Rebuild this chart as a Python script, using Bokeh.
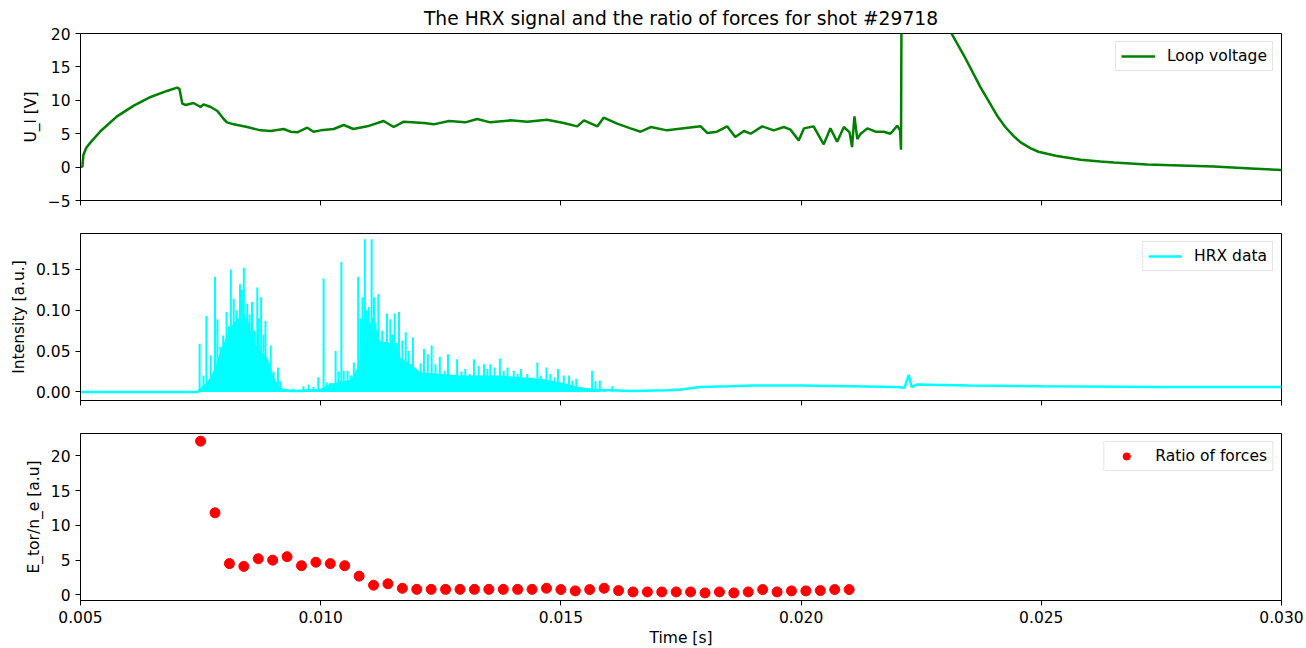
from bokeh.plotting import figure
from bokeh.layouts import column
from bokeh.models import Range1d, FixedTicker, NumeralTickFormatter, CustomLabelingPolicy
from bokeh.embed import file_html
from bokeh.resources import INLINE

FONT = "DejaVu Sans"
TICK_FS = "15.5px"

# ---------------- data ----------------
# Loop voltage U_l [V]
lv_t = [0.00500, 0.00504, 0.00506, 0.00512, 0.00521, 0.00542, 0.00576, 0.00611, 0.00646, 0.00680,
        0.00701, 0.00706, 0.00712, 0.00719, 0.00735, 0.00750, 0.00756, 0.00771, 0.00785, 0.00798,
        0.00805, 0.00819, 0.00847, 0.00875, 0.00896, 0.00923, 0.00937, 0.00951, 0.00972, 0.00985,
        0.01000, 0.01027, 0.01048, 0.01068, 0.01097, 0.01131, 0.01152, 0.01173, 0.01215, 0.01235,
        0.01267, 0.01301, 0.01326, 0.01353, 0.01395, 0.01430, 0.01471, 0.01506, 0.01534, 0.01548,
        0.01576, 0.01589, 0.01617, 0.01645, 0.01666, 0.01687, 0.01721, 0.01756, 0.01791, 0.01805,
        0.01825, 0.01846, 0.01863, 0.01881, 0.01895, 0.01919, 0.01943, 0.01964, 0.01978, 0.01995,
        0.02006, 0.02026, 0.02047, 0.02061, 0.02075, 0.02089, 0.02101, 0.02106, 0.02111, 0.02117,
        0.02124, 0.02138, 0.02155, 0.02172, 0.02186, 0.02200, 0.02206, 0.02208, 0.02210, 0.02249,
        0.02313, 0.02339, 0.02373, 0.02408, 0.02425, 0.02443, 0.02457, 0.02478, 0.02494, 0.02512,
        0.02530, 0.02546, 0.02582, 0.02623, 0.02651, 0.02720, 0.02790, 0.02859, 0.02936, 0.03000]
lv_v = [0.0, 0.1, 1.8, 2.9, 3.7, 5.4, 7.6, 9.2, 10.5, 11.4,
        11.9, 11.7, 9.5, 9.3, 9.6, 9.0, 9.4, 9.0, 8.4, 7.2,
        6.7, 6.4, 6.0, 5.5, 5.4, 5.7, 5.3, 5.2, 5.9, 5.3,
        5.5, 5.7, 6.3, 5.7, 6.1, 6.9, 6.0, 6.8, 6.6, 6.4,
        6.9, 6.7, 7.2, 6.7, 7.0, 6.8, 7.1, 6.6, 6.1, 7.0,
        6.1, 7.4, 6.5, 5.8, 5.3, 6.0, 5.5, 5.8, 6.1, 5.1,
        5.3, 6.1, 4.5, 5.4, 5.0, 6.1, 5.5, 6.0, 5.6, 4.0,
        5.8, 6.1, 3.4, 5.8, 3.8, 6.0, 5.2, 3.0, 7.6, 4.2,
        5.0, 5.8, 5.3, 5.3, 5.0, 6.2, 5.5, 2.6, 45.0, 40.0,
        20.0, 16.7, 12.0, 7.7, 6.0, 4.6, 3.7, 2.8, 2.3, 2.0,
        1.7, 1.5, 1.1, 0.85, 0.7, 0.4, 0.25, 0.1, -0.2, -0.45]

# HRX data: continuous low level signal
hrx_base_t = [0.00500, 0.00744, 0.00748, 0.00800, 0.00830, 0.00870, 0.00900, 0.00950, 0.01000, 0.01050,
              0.01100, 0.01200, 0.01350, 0.01500, 0.01600, 0.01650, 0.01720, 0.01750, 0.01790, 0.01850,
              0.01900, 0.02000, 0.02100, 0.02200, 0.02215, 0.02224, 0.02230, 0.02240, 0.02350, 0.02500,
              0.02750, 0.03000]
hrx_base_v = [0.000, 0.000, 0.002, 0.003, 0.005, 0.003, 0.002, 0.001, 0.002, 0.003,
              0.004, 0.004, 0.004, 0.003, 0.002, 0.001, 0.002, 0.003, 0.006, 0.007,
              0.008, 0.008, 0.007, 0.006, 0.005, 0.021, 0.006, 0.009, 0.008, 0.007,
              0.006, 0.006]

# HRX data: dense burst envelope
hrx_env_t = [0.00744, 0.00760, 0.00771, 0.00783, 0.00798, 0.00818, 0.00839, 0.00850, 0.00860, 0.00875,
             0.00889, 0.00902, 0.00916, 0.00937, 0.01000, 0.01020, 0.01062, 0.01077, 0.01093, 0.01108,
             0.01124, 0.01145, 0.01166, 0.01187, 0.01208, 0.01291, 0.01374, 0.01458, 0.01499, 0.01537,
             0.01582]
hrx_env_v = [0.002, 0.010, 0.018, 0.035, 0.060, 0.084, 0.096, 0.085, 0.060, 0.050,
             0.042, 0.018, 0.005, 0.002, 0.004, 0.010, 0.015, 0.030, 0.067, 0.091,
             0.062, 0.060, 0.042, 0.034, 0.024, 0.020, 0.020, 0.016, 0.012, 0.006,
             0.003]

# HRX data: individual spikes
hrx_spk_t = [0.00748, 0.00756, 0.00762, 0.00771, 0.00780, 0.00785, 0.00791, 0.00797, 0.00804, 0.00809,
             0.00813, 0.00819, 0.00825, 0.00832, 0.00836, 0.00840, 0.00847, 0.00852, 0.00857, 0.00862,
             0.00868, 0.00871, 0.00876, 0.00881, 0.00885, 0.00896, 0.00902, 0.00911, 0.00916, 0.00943,
             0.00964, 0.00975, 0.00985, 0.00995, 0.01006, 0.01012, 0.01020, 0.01031, 0.01037, 0.01043,
             0.01048, 0.01056, 0.01062, 0.01069, 0.01078, 0.01083, 0.01087, 0.01092, 0.01096, 0.01100,
             0.01106, 0.01111, 0.01114, 0.01120, 0.01128, 0.01133, 0.01138, 0.01145, 0.01149, 0.01154,
             0.01158, 0.01163, 0.01170, 0.01177, 0.01183, 0.01192, 0.01201, 0.01208, 0.01215, 0.01223,
             0.01231, 0.01239, 0.01248, 0.01258, 0.01265, 0.01274, 0.01284, 0.01293, 0.01301, 0.01310,
             0.01319, 0.01329, 0.01340, 0.01347, 0.01353, 0.01362, 0.01373, 0.01381, 0.01389, 0.01402,
             0.01410, 0.01417, 0.01430, 0.01439, 0.01451, 0.01458, 0.01470, 0.01478, 0.01487, 0.01494,
             0.01506, 0.01517, 0.01524, 0.01532, 0.01544, 0.01565, 0.01572, 0.01581, 0.01589, 0.01607]
hrx_spk_v = [0.059, 0.020, 0.093, 0.045, 0.141, 0.089, 0.055, 0.069, 0.098, 0.080,
             0.150, 0.114, 0.100, 0.132, 0.125, 0.152, 0.108, 0.095, 0.110, 0.075,
             0.128, 0.090, 0.116, 0.070, 0.087, 0.057, 0.025, 0.030, 0.013, 0.004,
             0.007, 0.009, 0.006, 0.018, 0.139, 0.012, 0.011, 0.050, 0.025, 0.159,
             0.026, 0.026, 0.020, 0.036, 0.141, 0.090, 0.116, 0.187, 0.100, 0.104,
             0.187, 0.116, 0.085, 0.120, 0.075, 0.060, 0.096, 0.089, 0.070, 0.096,
             0.060, 0.098, 0.063, 0.073, 0.050, 0.067, 0.022, 0.035, 0.053, 0.046,
             0.057, 0.034, 0.043, 0.026, 0.046, 0.018, 0.040, 0.025, 0.028, 0.022,
             0.040, 0.032, 0.034, 0.028, 0.034, 0.030, 0.041, 0.026, 0.030, 0.026,
             0.022, 0.028, 0.022, 0.018, 0.036, 0.020, 0.030, 0.022, 0.018, 0.028,
             0.020, 0.020, 0.014, 0.016, 0.005, 0.026, 0.013, 0.014, 0.003, 0.007]

# Ratio of forces E_tor/n_e [a.u]
ratio_t = [0.0075, 0.0078, 0.0081, 0.0084, 0.0087, 0.0090, 0.0093, 0.0096, 0.0099, 0.0102,
           0.0105, 0.0108, 0.0111, 0.0114, 0.0117, 0.0120, 0.0123, 0.0126, 0.0129, 0.0132,
           0.0135, 0.0138, 0.0141, 0.0144, 0.0147, 0.0150, 0.0153, 0.0156, 0.0159, 0.0162,
           0.0165, 0.0168, 0.0171, 0.0174, 0.0177, 0.0180, 0.0183, 0.0186, 0.0189, 0.0192,
           0.0195, 0.0198, 0.0201, 0.0204, 0.0207, 0.0210]
ratio_v = [22.1, 11.8, 4.5, 4.1, 5.2, 5.0, 5.5, 4.2, 4.7, 4.5,
           4.2, 2.7, 1.4, 1.6, 0.95, 0.8, 0.8, 0.8, 0.8, 0.8,
           0.8, 0.8, 0.8, 0.8, 0.96, 0.77, 0.58, 0.77, 0.96, 0.62,
           0.43, 0.43, 0.43, 0.43, 0.43, 0.29, 0.43, 0.29, 0.43, 0.77,
           0.43, 0.58, 0.58, 0.62, 0.77, 0.77]

x_ticks = [0.005, 0.010, 0.015, 0.020, 0.025, 0.030]
lv_ticks = [-5, 0, 5, 10, 15, 20]
hrx_ticks = [0.0, 0.05, 0.10, 0.15]
ratio_ticks = [0, 5, 10, 15, 20]


def make_fig(y_range, top, bottom, title=None):
    p = figure(frame_width=1201, frame_height=167,
               x_range=Range1d(0.005, 0.030), y_range=y_range,
               output_backend="svg", toolbar_location=None,
               min_border_left=80, min_border_right=25,
               min_border_top=top, min_border_bottom=bottom,
               title=title, background_fill_color="white",
               border_fill_color="white")
    p.grid.visible = False
    p.outline_line_color = "black"
    p.outline_line_width = 1
    for ax in (p.xaxis[0], p.yaxis[0]):
        ax.axis_line_color = "black"
        ax.major_tick_line_color = "black"
        ax.major_tick_out = 5
        ax.major_tick_in = 0
        ax.minor_tick_line_color = None
        ax.major_label_text_font = FONT
        ax.major_label_text_font_size = TICK_FS
        ax.major_label_text_color = "black"
        ax.axis_label_text_font = FONT
        ax.axis_label_text_font_size = TICK_FS
        ax.axis_label_text_font_style = "normal"
        ax.axis_label_text_color = "black"
        ax.major_label_standoff = 5
    p.xaxis.ticker = FixedTicker(ticks=x_ticks)
    p.xaxis.formatter = NumeralTickFormatter(format="0.000")
    if title is not None:
        p.title.align = "center"
        p.title.text_font = FONT
        p.title.text_font_size = "18.7px"
        p.title.text_font_style = "normal"
        p.title.text_color = "black"
    return p


def hide_x_labels(p):
    # tick marks only, shared-x style: drop every tick label and its space
    p.xaxis.major_label_text_font_size = "0px"
    p.xaxis.major_label_policy = CustomLabelingPolicy(
        code="for (const i of indices) { indices.unset(i) } return indices")


def style_legend(p):
    lg = p.legend[0]
    lg.location = "top_right"
    lg.margin = 8
    lg.padding = 5
    lg.spacing = 0
    lg.label_text_font = FONT
    lg.label_text_font_size = TICK_FS
    lg.label_text_color = "black"
    lg.label_height = 18
    lg.glyph_height = 18
    lg.glyph_width = 34
    lg.label_standoff = 12
    lg.border_line_color = "#cccccc"
    lg.border_line_width = 1
    lg.background_fill_alpha = 0.8


# ---- top: loop voltage
p1 = make_fig(Range1d(-5, 20), 33, 16,
              title="The HRX signal and the ratio of forces for shot #29718")
p1.line(lv_t, lv_v, line_color="#008000", line_width=2.5, legend_label="Loop voltage")
p1.yaxis.ticker = FixedTicker(ticks=lv_ticks)
p1.yaxis.major_label_overrides = {-5: "\u22125"}
p1.yaxis.axis_label = "U_l [V]"
hide_x_labels(p1)
style_legend(p1)

# ---- middle: HRX
p2 = make_fig(Range1d(-0.0105, 0.194), 17, 16)
p2.varea(x=hrx_env_t, y1=[0.0] * len(hrx_env_t), y2=hrx_env_v, fill_color="#00FFFF")
p2.segment(x0=hrx_spk_t, y0=[0.0] * len(hrx_spk_t), x1=hrx_spk_t, y1=hrx_spk_v,
           line_color="#00FFFF", line_width=2)
p2.line(hrx_base_t, hrx_base_v, line_color="#00FFFF", line_width=2.5, legend_label="HRX data")
p2.yaxis.ticker = FixedTicker(ticks=hrx_ticks)
p2.yaxis.formatter = NumeralTickFormatter(format="0.00")
p2.yaxis.axis_label = "Intensity [a.u.]"
hide_x_labels(p2)
style_legend(p2)

# ---- bottom: ratio of forces
p3 = make_fig(Range1d(-0.8, 23.2), 17, 48)
p3.scatter(ratio_t, ratio_v, size=10, fill_color="#FF0000", line_color="#FF0000",
           legend_label="Ratio of forces")
p3.yaxis.ticker = FixedTicker(ticks=ratio_ticks)
p3.yaxis.axis_label = "E_tor/n_e [a.u]"
p3.xaxis.axis_label = "Time [s]"
p3.xaxis.axis_label_standoff = 3
style_legend(p3)

layout = column(p1, p2, p3, spacing=0)
open("out.html", "w").write(file_html(layout, INLINE))
